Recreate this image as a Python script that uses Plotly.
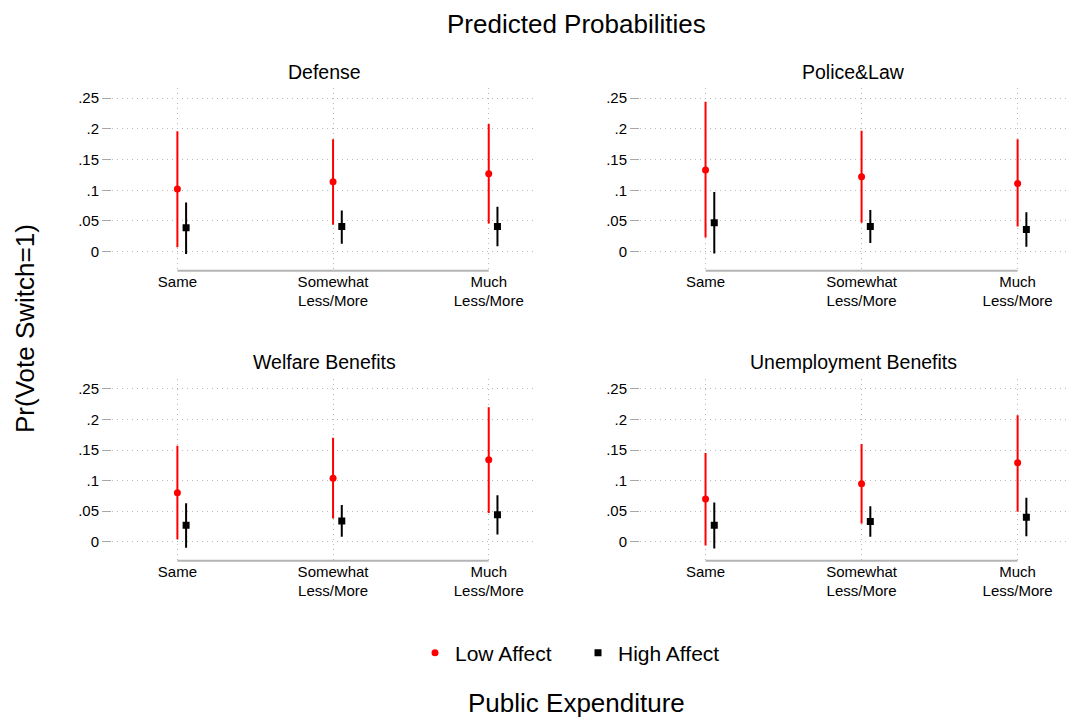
import plotly.graph_objects as go

categories = ["Same", "Somewhat<br>Less/More", "Much<br>Less/More"]
panels = ["Defense", "Police&Law", "Welfare Benefits", "Unemployment Benefits"]
series_names = ["Low Affect", "High Affect"]
y_tickvals = [0, 0.05, 0.1, 0.15, 0.2, 0.25]
y_ticktext = ["0", ".05", ".1", ".15", ".2", ".25"]

defense_low_est = [0.102, 0.114, 0.127]
defense_low_lo = [0.007, 0.044, 0.046]
defense_low_hi = [0.196, 0.183, 0.208]
defense_high_est = [0.039, 0.041, 0.041]
defense_high_lo = [-0.004, 0.013, 0.009]
defense_high_hi = [0.080, 0.067, 0.073]

police_low_est = [0.133, 0.122, 0.111]
police_low_lo = [0.023, 0.047, 0.041]
police_low_hi = [0.244, 0.197, 0.183]
police_high_est = [0.047, 0.041, 0.036]
police_high_lo = [-0.003, 0.014, 0.008]
police_high_hi = [0.097, 0.068, 0.064]

welfare_low_est = [0.080, 0.104, 0.134]
welfare_low_lo = [0.004, 0.038, 0.047]
welfare_low_hi = [0.157, 0.170, 0.220]
welfare_high_est = [0.027, 0.034, 0.044]
welfare_high_lo = [-0.010, 0.008, 0.012]
welfare_high_hi = [0.063, 0.060, 0.076]

unemp_low_est = [0.070, 0.095, 0.129]
unemp_low_lo = [-0.006, 0.030, 0.049]
unemp_low_hi = [0.145, 0.160, 0.207]
unemp_high_est = [0.027, 0.033, 0.040]
unemp_high_lo = [-0.011, 0.008, 0.009]
unemp_high_hi = [0.064, 0.058, 0.072]

panel_data = [
    ((defense_low_est, defense_low_lo, defense_low_hi), (defense_high_est, defense_high_lo, defense_high_hi)),
    ((police_low_est, police_low_lo, police_low_hi), (police_high_est, police_high_lo, police_high_hi)),
    ((welfare_low_est, welfare_low_lo, welfare_low_hi), (welfare_high_est, welfare_high_lo, welfare_high_hi)),
    ((unemp_low_est, unemp_low_lo, unemp_low_hi), (unemp_high_est, unemp_high_lo, unemp_high_hi)),
]

# page has an 8px body margin; figure fills the rest of the window
OFF = 8
W, H = 1077 - OFF, 722 - OFF


def px(x):
    return (x - OFF) / W


def py(y):
    return 1 - (y - OFF) / H


FONT = "Liberation Sans, Arial, Helvetica, sans-serif"
x_doms = [(px(112), px(537)), (px(640), px(1066))]
y_doms = [(py(270.7), py(88.3)), (py(560.7), py(379.1))]
title_y = [71.5, 362.0]
x_range = [-0.42, 2.31]
y_range = [-0.031, 0.266]
offset = 0.056

styles = [
    dict(color="#ff0000", symbol="circle", size=7),
    dict(color="#000000", symbol="square", size=7),
]
GRID = dict(showgrid=True, gridcolor="#b8b8b8", griddash="1px,4px", gridwidth=1)

fig = go.Figure()
layout = {}
annotations = []
shapes = []
xs = list(range(len(categories)))

for i, name in enumerate(panels):
    r, c = divmod(i, 2)
    k = i + 1
    xa = "x" if k == 1 else f"x{k}"
    ya = "y" if k == 1 else f"y{k}"
    for s, (est, lo, hi) in enumerate(panel_data[i]):
        st = styles[s]
        fig.add_trace(go.Scatter(
            x=[x + s * offset for x in xs], y=est,
            mode="markers",
            marker=dict(color=st["color"], symbol=st["symbol"], size=st["size"]),
            error_y=dict(type="data", symmetric=False,
                         array=[h - e for h, e in zip(hi, est)],
                         arrayminus=[e - l for e, l in zip(est, lo)],
                         color=st["color"], thickness=2, width=0),
            name=series_names[s], showlegend=(i == 0), legendrank=s,
            xaxis=xa, yaxis=ya,
        ))
    xkey = "xaxis" if k == 1 else f"xaxis{k}"
    ykey = "yaxis" if k == 1 else f"yaxis{k}"
    layout[xkey] = dict(
        domain=x_doms[c], anchor=ya, range=x_range,
        tickmode="array", tickvals=xs, ticktext=categories,
        zeroline=False, showline=False, ticks="",
        tickfont=dict(family=FONT, size=15, color="#000"),
        **GRID,
    )
    layout[ykey] = dict(
        domain=y_doms[r], anchor=xa, range=y_range,
        tickmode="array", tickvals=y_tickvals, ticktext=y_ticktext,
        zeroline=False, showline=False, ticks="outside", ticklen=9,
        tickcolor="#a8a8a8", tickwidth=1,
        tickfont=dict(family=FONT, size=15, color="#000"),
        **GRID,
    )
    # axis line spanning first to last category (Stata style)
    shapes.append(dict(type="line", xref=xa, yref=f"{ya} domain",
                       x0=xs[0], x1=xs[-1], y0=0, y1=0,
                       line=dict(color="#b4b4b4", width=2)))
    annotations.append(dict(
        text=name, xref="paper", yref="paper",
        x=(x_doms[c][0] + x_doms[c][1]) / 2, y=py(title_y[r]),
        xanchor="center", yanchor="middle", showarrow=False,
        font=dict(family=FONT, size=19.5, color="#000"),
    ))

annotations.append(dict(text="Predicted Probabilities", xref="paper", yref="paper",
                        x=px(576), y=1.0, xanchor="center", yanchor="top",
                        borderpad=0, showarrow=False,
                        font=dict(family=FONT, size=26, color="#000")))
annotations.append(dict(text="Pr(Vote Switch=1)", xref="paper", yref="paper",
                        x=px(25), y=py(329), xanchor="center", yanchor="middle",
                        textangle=-90, showarrow=False,
                        font=dict(family=FONT, size=26, color="#000")))
annotations.append(dict(text="Public Expenditure", xref="paper", yref="paper",
                        x=px(576), y=py(703), xanchor="center", yanchor="middle",
                        showarrow=False, font=dict(family=FONT, size=26, color="#000")))

fig.update_layout(
    width=W, height=H,
    margin=dict(l=0, r=0, t=0, b=0),
    paper_bgcolor="white", plot_bgcolor="white",
    showlegend=True,
    legend=dict(orientation="h", x=px(578), y=py(653), xanchor="center",
                yanchor="middle", font=dict(family=FONT, size=21, color="#000"),
                tracegroupgap=0, entrywidth=118, entrywidthmode="pixels"),
    annotations=annotations, shapes=shapes,
    **layout,
)

fig.write_html("out.html")
